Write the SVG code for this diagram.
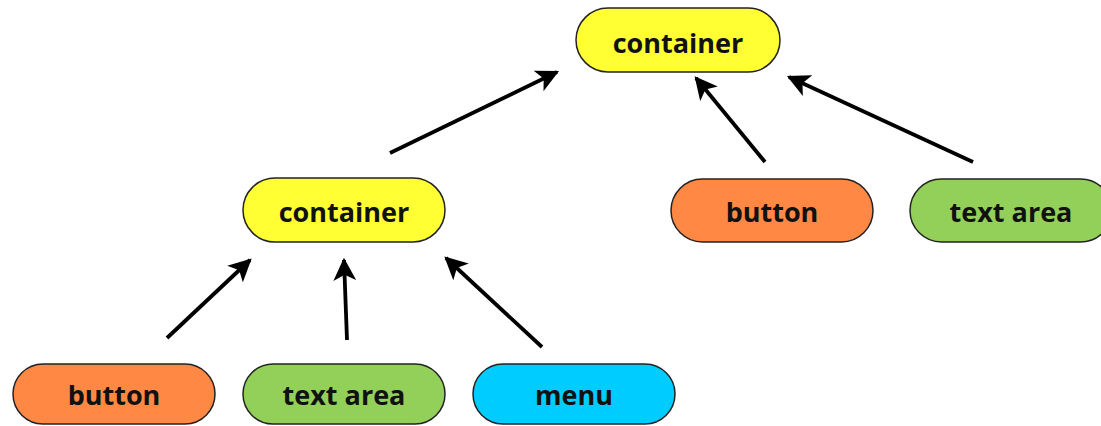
<svg xmlns="http://www.w3.org/2000/svg" width="1101" height="426" viewBox="0 0 1101 426">
<style>
.n{stroke:#222;stroke-width:1.5}
.y{fill:#FFFF33}.o{fill:#FF8844}.g{fill:#92D05A}.c{fill:#00CCFF}
.t{font-family:"Open Sans","DejaVu Sans",sans-serif;font-weight:bold;font-size:27px;fill:#111;text-anchor:middle}
.e{stroke:#000;stroke-width:3.8;fill:none;marker-end:url(#ah)}
</style>
<defs>
<marker id="ah" viewBox="0 0 10 10" refX="9" refY="5" markerWidth="6" markerHeight="6" orient="auto" markerUnits="strokeWidth">
<path d="M0,0 L10,5 L0,10 L2.5,5 Z" fill="#000"/>
</marker>
</defs>
<rect width="1101" height="426" fill="#fff"/>
<g id="connectors">
<line class="e" x1="390" y1="153" x2="557" y2="72"/>
<line class="e" x1="765" y1="162" x2="696" y2="78"/>
<line class="e" x1="973" y1="162" x2="789" y2="77"/>
<line class="e" x1="167" y1="338" x2="250" y2="260"/>
<line class="e" x1="347" y1="340" x2="344" y2="260"/>
<line class="e" x1="542" y1="347" x2="446" y2="258"/>
</g>
<g id="container-top"><rect class="n y" x="576" y="8" width="204" height="64" rx="32"/><text class="t" x="678" y="53">container</text></g>
<g id="container-mid"><rect class="n y" x="243" y="178" width="202" height="64" rx="32"/><text class="t" x="344" y="222">container</text></g>
<g id="button-right"><rect class="n o" x="671" y="179" width="202" height="63" rx="31.5"/><text class="t" x="772" y="222">button</text></g>
<g id="textarea-right"><rect class="n g" x="910" y="179" width="202" height="63" rx="31.5"/><text class="t" x="1011" y="222">text area</text></g>
<g id="button-bottom"><rect class="n o" x="13" y="364" width="202" height="60" rx="30"/><text class="t" x="114" y="405">button</text></g>
<g id="textarea-bottom"><rect class="n g" x="243" y="364" width="202" height="60" rx="30"/><text class="t" x="344" y="405">text area</text></g>
<g id="menu-bottom"><rect class="n c" x="473" y="364" width="202" height="60" rx="30"/><text class="t" x="574" y="405">menu</text></g>
</svg>
